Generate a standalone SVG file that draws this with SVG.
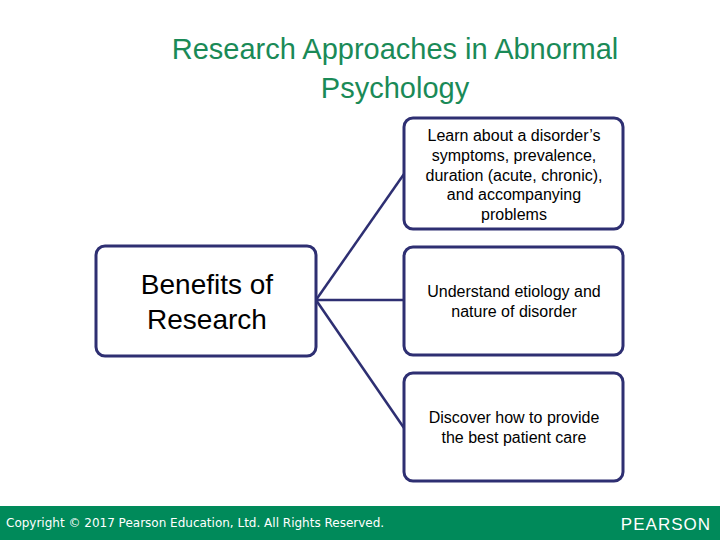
<svg xmlns="http://www.w3.org/2000/svg" width="720" height="540" viewBox="0 0 720 540">
<style>
.box{fill:#fff;stroke:#2E2F72;stroke-width:3}
.con{stroke:#2E2F72;stroke-width:2.5;fill:none}
.t{font-family:"Liberation Sans",Arial,sans-serif;fill:#000;text-anchor:middle}
.s{font-size:16px}
</style>
<rect width="720" height="540" fill="#fff"/>
<text class="t" x="395" y="59" font-size="29" style="fill:#1A8A57">Research Approaches in Abnormal</text>
<text class="t" x="395" y="98" font-size="29" style="fill:#1A8A57">Psychology</text>
<g id="connectors">
<line class="con" x1="316" y1="300" x2="404" y2="174"/>
<line class="con" x1="316" y1="300" x2="404" y2="300"/>
<line class="con" x1="316" y1="300" x2="404" y2="428"/>
</g>
<g id="benefits"><rect class="box" x="96" y="246" width="220" height="110" rx="9"/>
<text class="t" x="207" y="294" font-size="28">Benefits of</text>
<text class="t" x="207" y="329" font-size="28">Research</text></g>
<g id="learn"><rect class="box" x="404" y="118" width="219" height="111" rx="9"/>
<text class="t s" x="514" y="141">Learn about a disorder’s</text>
<text class="t s" x="514" y="161">symptoms, prevalence,</text>
<text class="t s" x="514" y="181">duration (acute, chronic),</text>
<text class="t s" x="514" y="200">and accompanying</text>
<text class="t s" x="514" y="220">problems</text></g>
<g id="understand"><rect class="box" x="404" y="247" width="219" height="108" rx="9"/>
<text class="t s" x="514" y="297">Understand etiology and</text>
<text class="t s" x="514" y="317">nature of disorder</text></g>
<g id="discover"><rect class="box" x="404" y="373" width="219" height="108" rx="9"/>
<text class="t s" x="514" y="423">Discover how to provide</text>
<text class="t s" x="514" y="443">the best patient care</text></g>
<rect x="0" y="506" width="720" height="34" fill="#008A5A"/>
<text x="6" y="527" font-family="'DejaVu Sans',Verdana,sans-serif" font-size="12" fill="#fff">Copyright © 2017 Pearson Education, Ltd. All Rights Reserved.</text>
<text x="711" y="530" font-family="'Liberation Sans',Arial,sans-serif" font-size="17" fill="#fff" text-anchor="end" letter-spacing="1">PEARSON</text>
</svg>
